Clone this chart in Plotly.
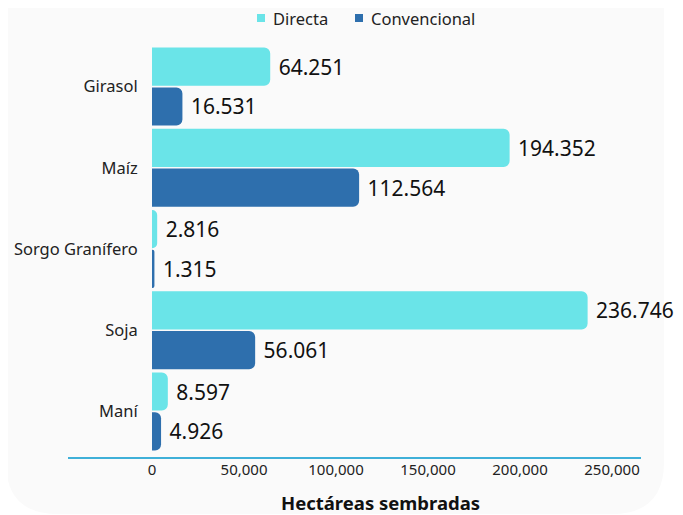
import plotly.graph_objects as go

categories = ["Girasol", "Maíz", "Sorgo Granífero", "Soja", "Maní"]
series_names = ["Directa", "Convencional"]
directa = [64251, 194352, 2816, 236746, 8597]
convencional = [16531, 112564, 1315, 56061, 4926]
x_ticks = [0, 50000, 100000, 150000, 200000, 250000]
x_tick_labels = ["0", "50,000", "100,000", "150,000", "200,000", "250,000"]
colors = ["#6ae4e8", "#2e6fad"]

def fmt(v):
    return "\u00a0" + f"{v:,}".replace(",", ".")

# page body has an 8px margin; figure sized to fill the rest of the window
OFF = 8
W, H = 683 - OFF, 515 - OFF
L, R, T, B = 152 - OFF, 42, 46 - OFF, 63
pw, ph = W - L - R, H - T - B

def px(x):  # screen pixel -> paper
    return (x - OFF - L) / pw

def py(y):
    return (H - B - (y - OFF)) / ph

fig = go.Figure()
for name, vals, col in zip(series_names, [directa, convencional], colors):
    fig.add_trace(go.Bar(
        y=categories, x=vals, orientation="h", name=name,
        marker=dict(color=col, line=dict(width=0)),
        text=[fmt(v) for v in vals], textposition="outside",
        textfont=dict(size=21, color="#111111"), cliponaxis=False,
        showlegend=False,
    ))

# background panel with rounded bottom corners
x0, x1, yb, r = 6, 664, 514, 52
path = (
    f"M {px(x0)} {py(-5)} L {px(x0)} {py(yb - r)} "
    f"Q {px(x0)} {py(yb)} {px(x0 + r)} {py(yb)} "
    f"L {px(x1 - r)} {py(yb)} "
    f"Q {px(x1)} {py(yb)} {px(x1)} {py(yb - r)} "
    f"L {px(x1)} {py(-5)} Z"
)
fig.add_shape(type="path", path=path, xref="paper", yref="paper",
              fillcolor="#fafafa", line=dict(width=0), layer="below")
# axis line
fig.add_shape(type="line", xref="paper", yref="paper",
              x0=px(68), x1=px(641), y0=py(458), y1=py(458),
              line=dict(color="#3fb0d8", width=2))

# legend (drawn manually: small squares + labels)
legend_x = [257, 355]
for lx, name, col in zip(legend_x, series_names, colors):
    fig.add_shape(type="rect", xref="paper", yref="paper",
                  x0=px(lx), x1=px(lx + 8), y0=py(22), y1=py(14),
                  fillcolor=col, line=dict(width=0))
    fig.add_annotation(text=name, xref="paper", yref="paper",
                       x=px(lx + 14), y=py(18), xanchor="left", yanchor="middle",
                       showarrow=False, font=dict(size=16.5, color="#222222"))

fig.add_annotation(text="<b>Hectáreas sembradas</b>", xref="paper", yref="paper",
                   x=px(380), y=py(502), xanchor="center", yanchor="middle",
                   showarrow=False, font=dict(size=18.5, color="#111111"))

fig.update_layout(
    width=W, height=H,
    margin=dict(l=L, r=R, t=T, b=B, pad=0, autoexpand=False),
    paper_bgcolor="white", plot_bgcolor="rgba(0,0,0,0)",
    font=dict(family="Noto Sans", color="#222222"),
    barmode="group", bargap=0.02, bargroupgap=0.04,
    barcornerradius=6,
    showlegend=False,
    xaxis=dict(range=[0, 265760], tickvals=x_ticks, ticktext=x_tick_labels,
               showgrid=False, zeroline=False, showline=False, automargin=False,
               tickfont=dict(size=15, color="#222222"),
               ticks="outside", ticklen=4, tickcolor="rgba(0,0,0,0)"),
    yaxis=dict(autorange="reversed", showgrid=False, zeroline=False,
               showline=False, automargin=False,
               tickfont=dict(size=16.5, color="#222222"),
               ticks="outside", ticklen=10, tickcolor="rgba(0,0,0,0)"),
)

fig.write_html("out.html")
